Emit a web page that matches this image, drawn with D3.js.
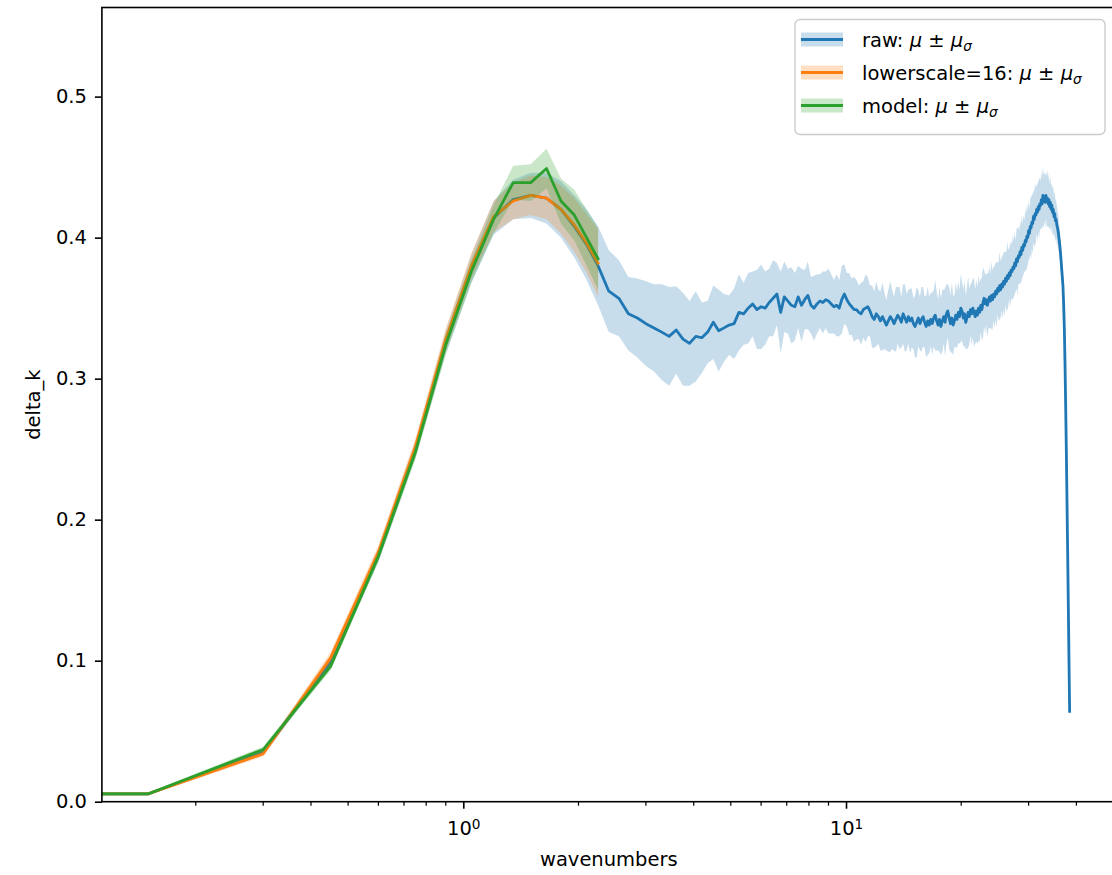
<!DOCTYPE html>
<html>
<head>
<meta charset="utf-8">
<script src="https://cdn.jsdelivr.net/npm/d3@7"></script>
<style>
  html, body { margin: 0; padding: 0; background: #fff; }
  svg text { font-family: "DejaVu Sans", sans-serif; fill: #000; }
</style>
</head>
<body>
<script>
// Wavenumber grid: 257 samples spaced 0.15 apart
const wavenumbers = d3.range(257).map(i => +(i * 0.15).toFixed(2));

// raw spectrum: mean delta_k per wavenumber
const rawMean = [
  0.0055, 0.0055, 0.035, 0.099, 0.175, 0.250, 0.326, 0.378, 0.414, 0.427,
  0.430, 0.428, 0.420, 0.408, 0.395, 0.380, 0.362, 0.357, 0.346, 0.343,
  0.339, 0.336, 0.333, 0.330, 0.3345, 0.328, 0.325, 0.330, 0.329, 0.333,
  0.340, 0.334, 0.336, 0.338, 0.339, 0.347, 0.346, 0.350, 0.353, 0.349,
  0.351, 0.350, 0.354, 0.357, 0.360, 0.347, 0.358, 0.355, 0.352, 0.351,
  0.358, 0.352, 0.356, 0.359, 0.352, 0.350, 0.353, 0.355, 0.354, 0.356,
  0.355, 0.353, 0.351, 0.352, 0.350, 0.356, 0.360, 0.356, 0.353, 0.351,
  0.349, 0.349, 0.347, 0.346, 0.349, 0.350, 0.351, 0.348, 0.344, 0.342,
  0.346, 0.344, 0.341, 0.344, 0.341, 0.338, 0.341, 0.344, 0.342, 0.339,
  0.342, 0.345, 0.343, 0.340, 0.346, 0.343, 0.340, 0.344, 0.341, 0.343,
  0.339, 0.337, 0.340, 0.343, 0.339, 0.342, 0.344, 0.340, 0.337, 0.341,
  0.338, 0.342, 0.339, 0.343, 0.345, 0.341, 0.338, 0.342, 0.337, 0.341,
  0.344, 0.340, 0.346, 0.348, 0.343, 0.339, 0.343, 0.338, 0.341, 0.345,
  0.342, 0.347, 0.344, 0.350, 0.348, 0.343, 0.346, 0.340, 0.343, 0.347,
  0.344, 0.349, 0.346, 0.350, 0.347, 0.344, 0.348, 0.345, 0.350, 0.347,
  0.352, 0.349, 0.354, 0.357, 0.353, 0.356, 0.352, 0.355, 0.358, 0.355,
  0.359, 0.356, 0.360, 0.358, 0.362, 0.360, 0.364, 0.362, 0.366, 0.363,
  0.367, 0.365, 0.369, 0.367, 0.371, 0.369, 0.373, 0.371, 0.375, 0.373,
  0.377, 0.376, 0.379, 0.378, 0.382, 0.380, 0.385, 0.383, 0.387, 0.386,
  0.390, 0.388, 0.393, 0.391, 0.395, 0.394, 0.398, 0.397, 0.401, 0.400,
  0.405, 0.403, 0.408, 0.407, 0.411, 0.410, 0.415, 0.413, 0.417, 0.416,
  0.420, 0.418, 0.422, 0.420, 0.424, 0.423, 0.427, 0.424, 0.430, 0.426,
  0.429, 0.425, 0.430, 0.426, 0.428, 0.424, 0.427, 0.422, 0.425, 0.420,
  0.423, 0.418, 0.420, 0.415, 0.417, 0.412, 0.413, 0.409, 0.407, 0.404,
  0.400, 0.396, 0.391, 0.385, 0.378, 0.372, 0.365, 0.352, 0.335, 0.310,
  0.280, 0.248, 0.212, 0.176, 0.138, 0.100, 0.064
];
// raw spectrum: spread (mu_sigma) per wavenumber
const rawSigma = [
  0.001, 0.001, 0.002, 0.003, 0.005, 0.006, 0.008, 0.010, 0.012, 0.014,
  0.016, 0.018, 0.020, 0.022, 0.025, 0.028, 0.029, 0.027, 0.026, 0.028,
  0.030, 0.031, 0.034, 0.035, 0.031, 0.033, 0.030, 0.032, 0.025, 0.022,
  0.026, 0.029, 0.024, 0.021, 0.025, 0.027, 0.022, 0.025, 0.023, 0.028,
  0.030, 0.026, 0.024, 0.027, 0.022, 0.029, 0.025, 0.023, 0.027, 0.024,
  0.022, 0.026, 0.021, 0.024, 0.020, 0.023, 0.021, 0.019, 0.022, 0.020,
  0.023, 0.021, 0.019, 0.022, 0.020, 0.024, 0.021, 0.019, 0.022, 0.020,
  0.023, 0.021, 0.019, 0.022, 0.020, 0.024, 0.021, 0.018, 0.022, 0.020,
  0.023, 0.019, 0.021, 0.024, 0.020, 0.018, 0.022, 0.025, 0.021, 0.019,
  0.023, 0.020, 0.022, 0.018, 0.021, 0.024, 0.020, 0.019, 0.023, 0.021,
  0.018, 0.022, 0.025, 0.020, 0.019, 0.023, 0.021, 0.018, 0.022, 0.024,
  0.020, 0.019, 0.022, 0.020, 0.025, 0.021, 0.018, 0.023, 0.020, 0.022,
  0.019, 0.024, 0.021, 0.019, 0.022, 0.020, 0.025, 0.021, 0.018, 0.023,
  0.020, 0.022, 0.019, 0.024, 0.021, 0.020, 0.023, 0.019, 0.022, 0.025,
  0.020, 0.018, 0.022, 0.021, 0.024, 0.019, 0.022, 0.020, 0.023, 0.021,
  0.019, 0.022, 0.025, 0.020, 0.021, 0.018, 0.023, 0.020, 0.022, 0.019,
  0.024, 0.021, 0.019, 0.022, 0.020, 0.023, 0.018, 0.021, 0.024, 0.020,
  0.019, 0.022, 0.020, 0.023, 0.019, 0.021, 0.024, 0.020, 0.018, 0.022,
  0.021, 0.019, 0.023, 0.020, 0.022, 0.018, 0.021, 0.024, 0.020, 0.019,
  0.022, 0.020, 0.023, 0.019, 0.021, 0.018, 0.022, 0.020, 0.023, 0.019,
  0.021, 0.018, 0.020, 0.022, 0.019, 0.021, 0.018, 0.020, 0.022, 0.019,
  0.017, 0.020, 0.018, 0.021, 0.019, 0.017, 0.020, 0.018, 0.021, 0.019,
  0.017, 0.019, 0.016, 0.018, 0.020, 0.017, 0.019, 0.016, 0.018, 0.017,
  0.015, 0.017, 0.016, 0.014, 0.016, 0.015, 0.013, 0.014, 0.012, 0.013,
  0.011, 0.011, 0.010, 0.009, 0.009, 0.008, 0.008, 0.007, 0.007, 0.006,
  0.006, 0.005, 0.005, 0.004, 0.004, 0.003, 0.003
];

// lowerscale=16: first 16 wavenumbers
const lowerMean  = [0.0055, 0.0055, 0.034, 0.102, 0.177, 0.252, 0.328, 0.380,
                    0.415, 0.426, 0.430, 0.428, 0.420, 0.409, 0.396, 0.382];
const lowerSigma = [0.001, 0.001, 0.002, 0.004, 0.005, 0.006, 0.008, 0.009,
                    0.011, 0.013, 0.014, 0.015, 0.017, 0.019, 0.021, 0.024];

// model: first 16 wavenumbers
const modelMean  = [0.0055, 0.0055, 0.037, 0.096, 0.174, 0.248, 0.324, 0.376,
                    0.413, 0.439, 0.439, 0.449, 0.426, 0.416, 0.400, 0.385];
const modelSigma = [0.001, 0.001, 0.002, 0.003, 0.004, 0.005, 0.007, 0.008,
                    0.010, 0.012, 0.013, 0.014, 0.016, 0.018, 0.020, 0.022];

const yTicks = [0.0, 0.1, 0.2, 0.3, 0.4, 0.5];
const xMajorTicks = [1, 10];
const xMinorTicks = [0.2, 0.3, 0.4, 0.5, 0.6, 0.7, 0.8, 0.9,
                     2, 3, 4, 5, 6, 7, 8, 9, 20, 30, 40, 50];

const seriesNames = ["raw", "lowerscale=16", "model"];
const colors = ["#1f77b4", "#ff7f0e", "#2ca02c"];

const W = 1112, H = 875;
const plot = { left: 101.9, right: 1115.7, top: 7.5, bottom: 801.7 };

const svg = d3.select("body").append("svg")
  .attr("width", W).attr("height", H);

const x = d3.scaleLog()
  .domain([Math.pow(10, -0.9443), Math.pow(10, 1.7047)])
  .range([plot.left, plot.right])
  .clamp(true);
const y = d3.scaleLinear()
  .domain([0, 0.5632])
  .range([plot.bottom, plot.top]);

svg.append("defs").append("clipPath").attr("id", "plot-clip")
  .append("rect")
  .attr("x", plot.left).attr("y", plot.top)
  .attr("width", plot.right - plot.left)
  .attr("height", plot.bottom - plot.top);

const layer = svg.append("g").attr("clip-path", "url(#plot-clip)");

function buildSeries(mean, sigma) {
  return mean.map((m, i) => ({ k: wavenumbers[i], m, s: sigma[i] }));
}
const series = [
  buildSeries(rawMean, rawSigma),
  buildSeries(lowerMean, lowerSigma),
  buildSeries(modelMean, modelSigma)
];

const area = d3.area()
  .x(d => x(d.k))
  .y0(d => y(d.m - d.s))
  .y1(d => y(d.m + d.s));
const line = d3.line()
  .x(d => x(d.k))
  .y(d => y(d.m));

series.forEach((data, i) => {
  layer.append("path")
    .datum(data)
    .attr("d", area)
    .attr("fill", colors[i])
    .attr("fill-opacity", 0.25)
    .attr("stroke", "none");
  layer.append("path")
    .datum(data)
    .attr("d", line)
    .attr("fill", "none")
    .attr("stroke", colors[i])
    .attr("stroke-width", 2.8)
    .attr("stroke-linejoin", "round")
    .attr("stroke-linecap", "square");
});

// Axes
const fontSize = 19.5;

const yAxis = svg.append("g")
  .attr("transform", `translate(${plot.left},0)`)
  .call(d3.axisLeft(y).tickValues(yTicks).tickFormat(d3.format(".1f"))
    .tickSizeInner(7).tickSizeOuter(0).tickPadding(8));
yAxis.select(".domain").remove();
yAxis.selectAll(".tick line").attr("stroke", "#000").attr("stroke-width", 1.6);
yAxis.selectAll(".tick text")
  .attr("font-size", fontSize).attr("font-family", "DejaVu Sans").attr("fill", "#000");

const xAxis = svg.append("g")
  .attr("transform", `translate(0,${plot.bottom})`)
  .call(d3.axisBottom(x).tickValues(xMajorTicks).tickFormat(() => "")
    .tickSizeInner(7).tickSizeOuter(0).tickPadding(6));
xAxis.select(".domain").remove();
xAxis.selectAll(".tick line").attr("stroke", "#000").attr("stroke-width", 1.6);
xAxis.selectAll(".tick text").each(function (d) {
  const t = d3.select(this)
    .attr("font-size", fontSize)
    .attr("font-family", "DejaVu Sans")
    .attr("fill", "#000")
    .attr("dy", "1.05em");
  t.text(null);
  t.append("tspan").text("10");
  t.append("tspan").attr("dy", "-0.45em").attr("font-size", "70%")
    .text(Math.round(Math.log10(d)));
});

const xMinor = svg.append("g").attr("transform", `translate(0,${plot.bottom})`);
xMinor.selectAll("line")
  .data(xMinorTicks.filter(v => x(v) <= W))
  .join("line")
  .attr("x1", d => x(d)).attr("x2", d => x(d))
  .attr("y1", 0).attr("y2", 4)
  .attr("stroke", "#000").attr("stroke-width", 1.2);

// Frame
svg.append("rect")
  .attr("x", plot.left).attr("y", plot.top)
  .attr("width", plot.right - plot.left)
  .attr("height", plot.bottom - plot.top)
  .attr("fill", "none").attr("stroke", "#000").attr("stroke-width", 1.6);

// Axis labels
svg.append("text")
  .attr("x", (plot.left + plot.right) / 2)
  .attr("y", 866)
  .attr("text-anchor", "middle")
  .attr("font-size", fontSize)
  .text("wavenumbers");

svg.append("text")
  .attr("transform", `translate(40,${(plot.top + plot.bottom) / 2}) rotate(-90)`)
  .attr("text-anchor", "middle")
  .attr("font-size", fontSize)
  .text("delta_k");

// Legend
const legend = svg.append("g");
legend.append("rect")
  .attr("x", 795).attr("y", 19.5)
  .attr("width", 310).attr("height", 115)
  .attr("rx", 5).attr("ry", 5)
  .attr("fill", "#fff").attr("fill-opacity", 0.8)
  .attr("stroke", "#cccccc").attr("stroke-width", 1.4);

const rowY = [39.5, 72.5, 105.5];
seriesNames.forEach((name, i) => {
  const g = legend.append("g").attr("transform", `translate(0,${rowY[i]})`);
  g.append("rect")
    .attr("x", 801).attr("y", -7)
    .attr("width", 42).attr("height", 14)
    .attr("fill", colors[i]).attr("fill-opacity", 0.25);
  g.append("line")
    .attr("x1", 801).attr("x2", 843)
    .attr("y1", 0).attr("y2", 0)
    .attr("stroke", colors[i]).attr("stroke-width", 2.8);
  const t = g.append("text")
    .attr("x", 862).attr("y", 7)
    .attr("font-size", fontSize);
  t.append("tspan").text(name + ": ");
  t.append("tspan").attr("font-style", "italic").text("\u03bc");
  t.append("tspan").text(" \u00b1 ");
  t.append("tspan").attr("font-style", "italic").text("\u03bc");
  t.append("tspan").attr("font-style", "italic").attr("font-size", "70%")
    .attr("dy", "0.3em").text("\u03c3");
});
</script>
</body>
</html>
